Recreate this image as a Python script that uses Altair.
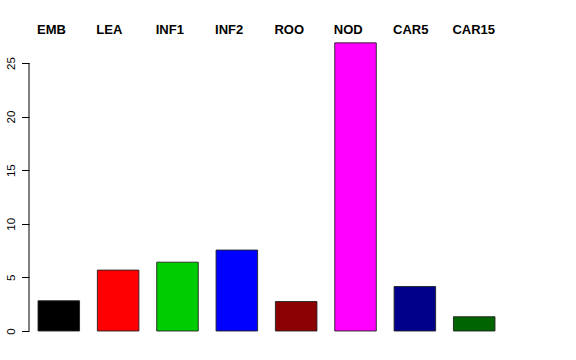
import altair as alt
import pandas as pd

categories = ["EMB", "LEA", "INF1", "INF2", "ROO", "NOD", "CAR5", "CAR15"]
values = [2.82, 5.68, 6.42, 7.55, 2.75, 26.88, 4.15, 1.33]
colors = ["#000000", "#FF0000", "#00CD00", "#0000FF", "#8B0000", "#FF00FF", "#00008B", "#006400"]
y_ticks = [0, 5, 10, 15, 20, 25]

df = pd.DataFrame({"cat": categories, "val": values, "col": colors})

xscale = alt.Scale(domain=categories, paddingInner=0.30, paddingOuter=0.152)
yscale = alt.Scale(domain=[-1.306, 30.877], nice=False, zero=False)

bars = alt.Chart(df).mark_bar(stroke="#222222", strokeWidth=0.9).encode(
    x=alt.X("cat:N", scale=xscale, sort=None, axis=None),
    y=alt.Y("val:Q", scale=yscale,
            axis=alt.Axis(values=y_ticks, domain=False, grid=False, title=None,
                          tickSize=7.5, tickColor="#000000", tickWidth=1,
                          labelAngle=270, labelAlign="center", labelBaseline="alphabetic",
                          labelPadding=7, labelFontSize=11.5, labelFont="Liberation Sans",
                          labelColor="#000000")),
    y2=alt.datum(0),
    color=alt.Color("col:N", scale=None),
)

axis_line = alt.Chart(pd.DataFrame({"a": [0]})).mark_rule(color="#000000", strokeWidth=1).encode(
    x=alt.value(0),
    y=alt.datum(0, scale=yscale),
    y2=alt.datum(25),
)

labels = alt.Chart(df).mark_text(
    align="left", baseline="alphabetic", fontWeight="bold", fontSize=13,
    font="Liberation Sans", color="#000000", dx=-1
).encode(
    x=alt.X("cat:N", scale=xscale, sort=None, bandPosition=0, axis=None),
    y=alt.value(34),
    text="cat:N",
)

chart = alt.layer(bars, axis_line, labels).properties(
    width=475, height=345,
    autosize=alt.AutoSizeParams(type="none"),
    padding={"left": 29, "top": 0, "right": 72, "bottom": 15},
    background="white",
).configure_view(stroke=None, strokeWidth=0)

chart.save("out.html", embed_options={"renderer": "svg", "actions": False})
